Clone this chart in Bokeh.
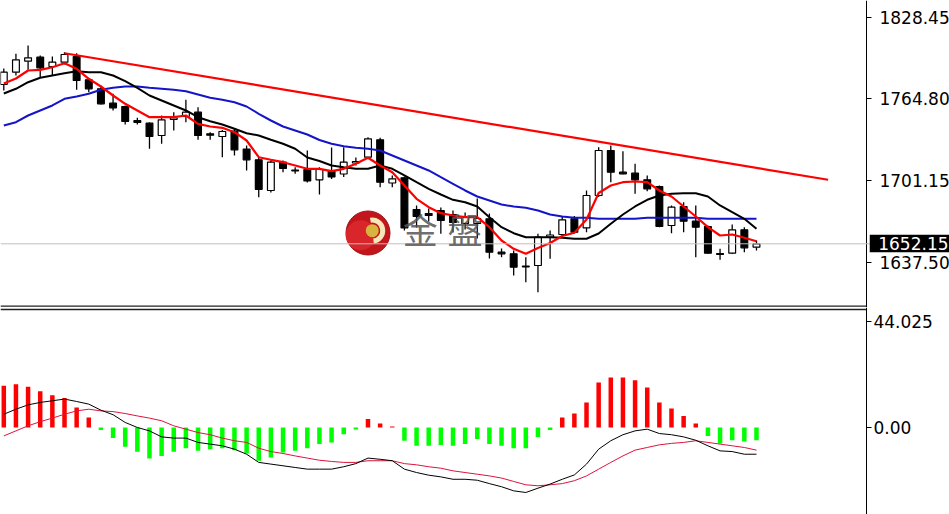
from bokeh.plotting import figure
from bokeh.layouts import column
from bokeh.models import (Range1d, FixedTicker, CustomJSTickFormatter, Span, Label,
                          ColumnDataSource, BoxAnnotation)
from bokeh.embed import file_html
from bokeh.resources import INLINE

# ---- price data (63 bars) ----
opens = [1776.08, 1785.64, 1794.20, 1797.31, 1790.08, 1793.42, 1797.86, 1779.73, 1772.73, 1761.53,
         1758.96, 1748.07, 1745.97, 1736.40, 1748.85, 1751.18, 1754.53, 1737.73, 1735.63, 1739.75,
         1725.90, 1717.50, 1693.62, 1715.63, 1709.41, 1709.95, 1701.94, 1708.79, 1706.45, 1715.01,
         1719.52, 1733.06, 1699.45, 1703.50, 1678.84, 1675.73, 1678.06, 1674.95, 1667.95, 1667.95,
         1671.60, 1645.62, 1644.38, 1634.89, 1635.28, 1657.45, 1659.39, 1671.60, 1664.60, 1689.73,
         1724.73, 1707.85, 1707.08, 1701.94, 1696.73, 1666.39, 1681.17, 1669.74, 1665.61, 1644.61,
         1644.84, 1663.05, 1649.51]
highs = [1788.52, 1799.96, 1806.41, 1798.64, 1797.86, 1801.20, 1800.42, 1780.74, 1775.30, 1768.84,
         1759.74, 1750.17, 1746.52, 1751.96, 1754.53, 1764.17, 1758.42, 1738.97, 1740.68, 1741.62,
         1728.62, 1719.29, 1716.96, 1716.96, 1711.74, 1724.73, 1711.74, 1727.07, 1727.30, 1719.29,
         1735.08, 1734.61, 1705.29, 1704.51, 1681.95, 1679.62, 1680.39, 1678.06, 1676.51, 1687.40,
         1675.73, 1648.50, 1646.94, 1641.73, 1659.93, 1662.50, 1673.39, 1673.78, 1693.62, 1727.30,
         1728.62, 1724.19, 1714.39, 1705.29, 1697.51, 1681.95, 1684.52, 1681.95, 1666.39, 1648.27,
         1667.17, 1665.07, 1654.72]
lows = [1771.41, 1783.08, 1787.51, 1781.52, 1783.08, 1791.63, 1771.95, 1770.09, 1760.52, 1755.85,
        1744.96, 1744.96, 1726.06, 1729.95, 1740.29, 1746.75, 1733.06, 1733.06, 1719.52, 1720.85,
        1709.18, 1688.41, 1692.06, 1707.85, 1706.61, 1699.84, 1690.51, 1702.57, 1704.12, 1713.07,
        1718.28, 1696.19, 1696.19, 1662.50, 1664.84, 1669.50, 1659.93, 1660.95, 1663.28, 1656.28,
        1640.72, 1641.73, 1627.50, 1622.29, 1614.51, 1640.49, 1657.84, 1660.17, 1661.18, 1688.56,
        1700.08, 1706.22, 1691.05, 1693.07, 1665.07, 1660.40, 1661.18, 1641.73, 1644.38, 1639.71,
        1644.22, 1645.62, 1646.94]
closes = [1785.64, 1795.29, 1796.85, 1789.07, 1793.42, 1799.41, 1779.19, 1772.73, 1761.06, 1757.95,
          1747.29, 1746.52, 1735.63, 1748.62, 1750.02, 1754.53, 1736.40, 1736.64, 1739.52, 1725.28,
          1717.50, 1694.55, 1715.63, 1710.73, 1708.94, 1701.01, 1709.95, 1704.12, 1715.63, 1716.18,
          1733.84, 1700.08, 1702.72, 1664.45, 1673.39, 1674.17, 1670.28, 1668.73, 1672.62, 1671.84,
          1645.62, 1644.38, 1633.96, 1634.27, 1657.29, 1659.00, 1670.83, 1661.18, 1689.73, 1724.73,
          1707.85, 1706.61, 1701.94, 1694.94, 1665.61, 1680.63, 1669.74, 1665.07, 1644.84, 1643.83,
          1663.05, 1649.05, 1652.15]

ma_fast = [1776.85, 1780.74, 1786.97, 1787.51, 1789.53, 1792.65, 1788.29, 1780.51, 1774.52, 1767.52,
           1761.06, 1755.85, 1750.64, 1750.64, 1750.64, 1751.96, 1745.50, 1743.40, 1742.39, 1738.97,
           1732.51, 1719.52, 1717.50, 1715.63, 1713.07, 1710.50, 1710.50, 1708.63, 1710.50, 1714.39,
           1719.06, 1713.07, 1707.85, 1697.51, 1687.16, 1680.63, 1675.96, 1674.17, 1672.85, 1672.85,
           1665.07, 1654.72, 1648.27, 1644.38, 1648.89, 1652.78, 1658.22, 1660.79, 1671.06, 1691.67,
           1697.51, 1700.08, 1700.62, 1700.08, 1693.62, 1688.95, 1681.17, 1673.39, 1665.07, 1658.61,
           1659.39, 1656.82, 1654.18]
ma_mid = [1769.08, 1772.73, 1777.87, 1781.29, 1783.08, 1784.87, 1786.42, 1785.64, 1785.64, 1783.08,
          1778.64, 1773.51, 1767.52, 1763.63, 1759.74, 1755.85, 1750.64, 1747.53, 1744.96, 1741.62,
          1738.19, 1736.40, 1733.06, 1729.95, 1726.06, 1719.29, 1716.57, 1713.07, 1711.74, 1710.50,
          1710.50, 1713.07, 1710.50, 1705.29, 1700.08, 1694.94, 1690.51, 1686.38, 1684.52, 1681.17,
          1672.85, 1665.07, 1660.40, 1657.29, 1657.29, 1657.29, 1656.82, 1656.05, 1656.05, 1660.17,
          1667.71, 1674.95, 1681.17, 1686.38, 1689.73, 1691.05, 1691.52, 1691.52, 1688.95, 1681.95,
          1676.74, 1671.60, 1663.82]
ma_slow = [1744.18, 1746.75, 1751.96, 1755.85, 1759.74, 1764.95, 1766.74, 1768.84, 1771.95, 1773.51,
           1774.52, 1774.52, 1773.51, 1772.73, 1771.95, 1770.86, 1768.30, 1765.73, 1764.17, 1762.31,
           1758.96, 1753.28, 1748.07, 1743.40, 1740.29, 1737.18, 1732.90, 1729.95, 1728.08, 1726.84,
           1726.06, 1724.73, 1720.85, 1716.96, 1713.07, 1709.18, 1703.96, 1698.83, 1693.62, 1688.95,
           1685.84, 1682.73, 1681.17, 1680.16, 1678.06, 1674.95, 1673.39, 1672.38, 1672.38, 1671.60,
           1671.60, 1671.60, 1671.60, 1672.38, 1672.38, 1672.38, 1672.38, 1672.38, 1671.60, 1671.60,
           1671.60, 1671.60, 1671.60]

trend_x = [5.0, 67.9]
trend_y = [1800.4, 1702.0]

last_price = 1652.15
price_ticks = [1637.50, 1701.15, 1764.80, 1828.45]

# ---- MACD data ----
macd_hist = [17.3, 18.0, 16.9, 15.0, 13.4, 12.2, 8.3, 4.2, -1.0, -4.4,
             -8.0, -10.1, -12.9, -11.8, -10.1, -8.6, -9.7, -9.0, -8.6, -9.4,
             -10.8, -13.8, -12.5, -10.4, -9.7, -8.6, -6.9, -6.2, -2.8, -0.8,
             3.5, 1.7, 0.4, -5.5, -7.6, -7.6, -7.3, -7.6, -6.9, -4.8,
             -6.9, -7.6, -8.6, -8.6, -3.9, -1.0, 4.2, 5.8, 10.4, 18.7,
             20.8, 20.8, 19.6, 16.6, 10.4, 7.9, 4.8, 1.7, -3.5, -6.6,
             -5.3, -5.8, -5.3]
macd_main = [5.5, 7.6, 9.4, 10.4, 11.1, 11.8, 10.8, 9.7, 7.2, 5.3,
             2.1, 0.0, -1.4, -3.9, -4.4, -4.4, -6.2, -6.9, -7.6, -9.0,
             -11.1, -14.5, -15.2, -15.9, -16.6, -17.3, -17.3, -17.3, -16.3, -15.0,
             -12.7, -13.2, -13.8, -17.3, -18.7, -19.8, -20.5, -21.5, -21.5, -21.9,
             -23.3, -24.6, -26.3, -27.0, -25.2, -23.5, -21.5, -19.7, -15.2, -9.0,
             -5.5, -3.0, -1.4, -0.7, -2.5, -3.0, -3.9, -5.3, -7.6, -9.7,
             -10.0, -11.1, -11.1]
macd_signal = [-3.5, -1.4, 0.7, 2.4, 3.9, 5.5, 6.9, 7.6, 6.9, 6.6,
               5.8, 4.8, 3.9, 2.8, 0.7, -0.7, -2.1, -3.0, -4.4, -5.5,
               -6.2, -8.6, -10.0, -10.8, -11.8, -12.7, -13.6, -14.1, -14.5, -14.5,
               -13.8, -13.8, -13.8, -15.0, -15.5, -16.3, -16.9, -18.0, -18.7, -19.4,
               -20.1, -21.0, -22.4, -23.8, -24.2, -23.8, -23.3, -22.1, -20.1, -17.3,
               -14.5, -11.8, -9.4, -8.3, -7.2, -6.6, -6.2, -5.5, -6.2, -6.9,
               -7.6, -8.3, -9.4]
macd_ticks = [0.0, 44.025]

n = len(closes)
idx = list(range(n))

FONT = "DejaVu Sans"
W = 949
X0, X1 = -0.272, 77.9     # full canvas width in bar units
AXIS_X = 71.06            # where the price scale sits

x_range = Range1d(X0, X1)

def style_axis(a, ticks, code, standoff):
    a.ticker = FixedTicker(ticks=ticks)
    a.formatter = CustomJSTickFormatter(code=code)
    a.fixed_location = AXIS_X
    a.axis_line_color = "black"
    a.axis_line_width = 1
    a.major_tick_line_color = "black"
    a.major_tick_in = 0
    a.major_tick_out = 5
    a.minor_tick_line_color = None
    a.major_label_standoff = standoff
    a.major_label_text_font = FONT
    a.major_label_text_font_size = "17px"
    a.major_label_text_color = "black"

# ---------------- price pane ----------------
PY0, PY1 = 1602.60, 1841.42
p = figure(width=W, height=307, x_range=x_range, y_range=Range1d(PY0, PY1),
           output_backend="svg", toolbar_location=None, x_axis_location=None,
           y_axis_location="right", min_border_left=0, min_border_right=0,
           min_border_top=0, min_border_bottom=0)
p.grid.visible = False
p.outline_line_color = None
style_axis(p.yaxis[0], price_ticks, "return tick.toFixed(2);", 8)

# current price line
p.add_layout(Span(location=last_price, dimension="width", line_color="#c0c0c0", line_width=1))
# pane bottom separator
p.segment(x0=[X0], y0=[1603.62], x1=[AXIS_X], y1=[1603.62], line_color="#202020", line_width=1.3)

# watermark logo
p.scatter(x=[30.0], y=[1660.56], size=44, marker="circle", fill_color="#c3151c",
          line_color="#a01015", line_width=1)
p.scatter(x=[29.4], y=[1658.8], size=30, marker="circle", fill_color="#d8262a", line_color=None)
p.annular_wedge(x=[30.35], y=[1662.4], inner_radius=8, outer_radius=13,
                inner_radius_units="screen", outer_radius_units="screen",
                start_angle=-1.45, end_angle=1.75, fill_color="#f4e6b8", line_color=None)
p.scatter(x=[30.35], y=[1662.4], size=13, marker="circle", fill_color="#d6b43e", line_color=None)

p.add_layout(Label(x=34.3, y=1664.2, text="金", text_font="Noto Sans CJK TC", text_font_size="35px",
                   text_color="#555555", text_alpha=0.85, text_align="center", text_baseline="middle"))
p.add_layout(Label(x=38.0, y=1664.2, text="盤", text_font="Noto Sans CJK TC", text_font_size="35px",
                   text_color="#555555", text_alpha=0.85, text_align="center", text_baseline="middle"))

# candles
up = [c >= o for o, c in zip(opens, closes)]
src = ColumnDataSource(dict(
    x=idx, o=opens, h=highs, l=lows, c=closes,
    top=[max(o, c) for o, c in zip(opens, closes)],
    bot=[min(o, c) for o, c in zip(opens, closes)],
    fill=["white" if u else "black" for u in up],
))
p.segment(x0="x", y0="h", x1="x", y1="l", source=src, line_color="black", line_width=1.3)
p.vbar(x="x", top="top", bottom="bot", width=0.56, source=src, fill_color="fill",
       line_color="black", line_width=1.2)

# moving averages and trendline
p.line(idx, ma_slow, line_color="#1414c8", line_width=2)
p.line(idx, ma_mid, line_color="black", line_width=2)
p.line(idx, ma_fast, line_color="#ff0000", line_width=2.2)
p.line(trend_x, trend_y, line_color="#ff0000", line_width=2.2)

# bid price box on the scale
p.add_layout(BoxAnnotation(left=71.33, right=X1, bottom=1645.62, top=1659.15,
                           fill_color="black", fill_alpha=1.0, line_color=None))
p.add_layout(Label(x=72.03, y=last_price, text=f"{last_price:.2f}", text_color="white",
                   text_font=FONT, text_font_size="17px",
                   text_baseline="middle", text_align="left"))

# ---------------- MACD pane ----------------
m = figure(width=W, height=207, x_range=x_range, y_range=Range1d(-36.13, 49.83),
           output_backend="svg", toolbar_location=None, x_axis_location=None,
           y_axis_location="right", min_border_left=0, min_border_right=0,
           min_border_top=0, min_border_bottom=0)
m.grid.visible = False
m.outline_line_color = None
style_axis(m.yaxis[0], macd_ticks, "return tick == 0 ? '0.00' : tick.toFixed(3);", 2)

m.segment(x0=[X0], y0=[49.0], x1=[AXIS_X], y1=[49.0], line_color="#202020", line_width=1.3)

hsrc = ColumnDataSource(dict(x=idx, h=macd_hist,
                             col=["#ff0000" if v > 0 else "#00ff00" for v in macd_hist]))
m.vbar(x="x", top="h", bottom=0, width=0.37, source=hsrc, fill_color="col", line_color=None)
m.line(idx, macd_signal, line_color="#dc143c", line_width=1)
m.line(idx, macd_main, line_color="black", line_width=1)

layout = column(p, m, spacing=0)
open("out.html", "w").write(file_html(layout, INLINE))
